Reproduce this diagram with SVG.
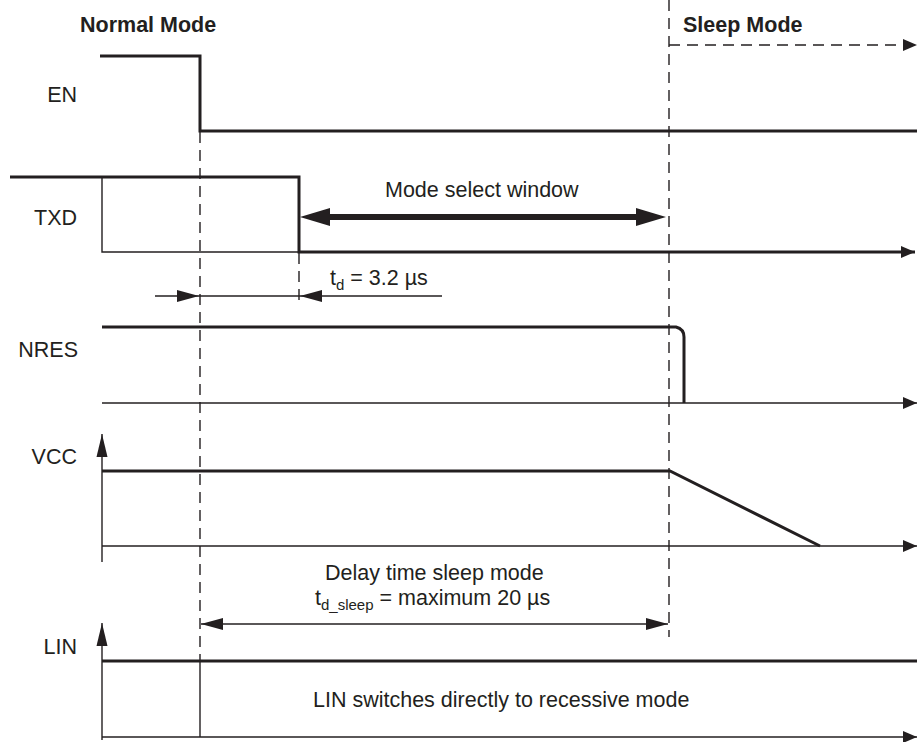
<svg xmlns="http://www.w3.org/2000/svg" width="917" height="742" viewBox="0 0 917 742">
<style>
.sig{fill:none;stroke:#231f20;stroke-width:3}
.thin{fill:none;stroke:#231f20;stroke-width:1.4}
.dash{fill:none;stroke:#231f20;stroke-width:1.4;stroke-dasharray:11 7}
.big{fill:none;stroke:#231f20;stroke-width:6}
text{font-family:"Liberation Sans",Arial,sans-serif;fill:#231f20;font-size:21.5px}
.b{font-weight:bold}
.lbl{text-anchor:end}
.sub{font-size:15px}
</style>
<defs>
<marker id="axisArrow" markerUnits="userSpaceOnUse" markerWidth="14" markerHeight="12" refX="14" refY="6" orient="auto" viewBox="0 0 14 12"><path d="M0,0 L14,6 L0,12 z" fill="#231f20"/></marker>
<marker id="vArrow" markerUnits="userSpaceOnUse" markerWidth="23" markerHeight="12" refX="23" refY="6" orient="auto" viewBox="0 0 23 12"><path d="M0,0.5 L23,6 L0,11.5 z" fill="#231f20"/></marker>
<marker id="dimArrow" markerUnits="userSpaceOnUse" markerWidth="22" markerHeight="12" refX="22" refY="6" orient="auto-start-reverse" viewBox="0 0 22 12"><path d="M0,0 L22,6 L0,12 z" fill="#231f20"/></marker>
<marker id="bigArrow" markerUnits="userSpaceOnUse" markerWidth="30" markerHeight="18" refX="20" refY="9" orient="auto-start-reverse" viewBox="0 0 30 18"><path d="M0,0 L30,9 L0,18 z" fill="#231f20"/></marker>
</defs>

<g id="mode-labels">
<text class="b" x="80" y="32">Normal Mode</text>
<text class="b" x="683" y="32">Sleep Mode</text>
</g>

<g id="EN">
<text class="lbl" x="77" y="102">EN</text>
<path class="sig" d="M100,56 H200 V131 H917"/>
</g>

<g id="TXD">
<text class="lbl" x="77" y="225">TXD</text>
<path class="thin" d="M299,252 H102 V177"/>
<path class="sig" d="M10,177 H299 V252 H915" marker-end="url(#axisArrow)"/>
</g>

<g id="NRES">
<text class="lbl" x="78" y="357">NRES</text>
<path class="sig" d="M102,327 H676 Q684,329 684,337 V403"/>
<path class="thin" d="M102,403 H917" marker-end="url(#axisArrow)"/>
</g>

<g id="VCC">
<text class="lbl" x="77" y="464">VCC</text>
<path class="thin" d="M102,562 V434" marker-end="url(#vArrow)"/>
<path class="sig" d="M102,471 H670 L820,546"/>
<path class="thin" d="M102,546 H917" marker-end="url(#axisArrow)"/>
</g>

<g id="LIN">
<text class="lbl" x="77" y="654">LIN</text>
<path class="thin" d="M102,740 V623" marker-end="url(#vArrow)"/>
<path class="sig" d="M102,661 H917"/>
<path class="thin" d="M102,737 H917" marker-end="url(#axisArrow)"/>
<path class="thin" d="M200,661 V737"/>
<text x="313" y="707">LIN switches directly to recessive mode</text>
</g>

<g id="connectors">
<path class="dash" d="M200,132 V661"/>
<path class="dash" d="M669,0 V637"/>
<path class="dash" d="M299,253 V307"/>
<path class="dash" d="M669,45 H917" marker-end="url(#axisArrow)"/>
<path class="big" d="M310,217 H656" marker-start="url(#bigArrow)" marker-end="url(#bigArrow)"/>
<text x="385" y="197">Mode select window</text>
<path class="thin" d="M155,296 H199" marker-end="url(#dimArrow)"/>
<path class="thin" d="M199,296 H300"/>
<path class="thin" d="M442,296 H300" marker-end="url(#dimArrow)"/>
<text x="330" y="285">t<tspan class="sub" dy="5">d</tspan><tspan dy="-5"> = 3.2 µs</tspan></text>
<path class="thin" d="M201,624 H668" marker-start="url(#dimArrow)" marker-end="url(#dimArrow)"/>
<text x="325" y="580">Delay time sleep mode</text>
<text x="315" y="605">t<tspan class="sub" dy="5">d_sleep</tspan><tspan dy="-5"> = maximum 20 µs</tspan></text>
</g>
</svg>
